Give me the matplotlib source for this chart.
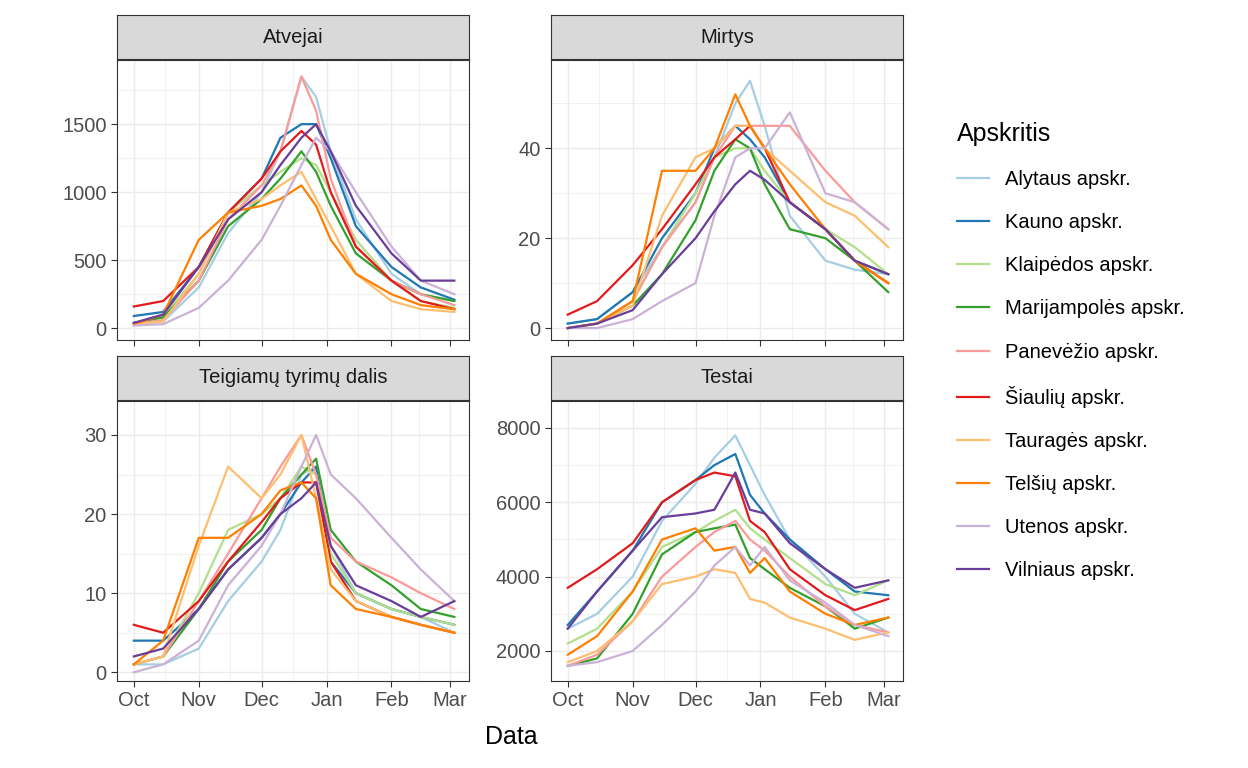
import numpy as np
import pandas as pd
import matplotlib
matplotlib.use("Agg")
import matplotlib.pyplot as plt
import matplotlib.dates as mdates

plt.rcParams["font.family"] = ["Liberation Sans", "DejaVu Sans"]

dates = pd.to_datetime(["2020-10-01", "2020-10-15", "2020-11-01", "2020-11-15", "2020-12-01",
                        "2020-12-10", "2020-12-20", "2020-12-27", "2021-01-03", "2021-01-15",
                        "2021-02-01", "2021-02-15", "2021-03-03"])

regions = ["Alytaus apskr.", "Kauno apskr.", "Klaipėdos apskr.", "Marijampolės apskr.",
           "Panevėžio apskr.", "Šiaulių apskr.", "Tauragės apskr.", "Telšių apskr.",
           "Utenos apskr.", "Vilniaus apskr."]
colors = ["#A6CEE3", "#1F78B4", "#B2DF8A", "#33A02C", "#FB9A99",
          "#E31A1C", "#FDBF6F", "#FF7F00", "#CAB2D6", "#6A3D9A"]

atvejai = [
    [30, 50, 300, 700, 1000, 1300, 1850, 1700, 1300, 800, 400, 250, 200],
    [90, 120, 450, 850, 1100, 1400, 1500, 1500, 1250, 750, 450, 300, 210],
    [30, 80, 400, 850, 1050, 1150, 1250, 1200, 1000, 650, 350, 200, 150],
    [40, 80, 350, 750, 950, 1100, 1300, 1150, 900, 550, 350, 250, 200],
    [30, 60, 350, 800, 1050, 1300, 1850, 1600, 1100, 600, 350, 250, 170],
    [160, 200, 450, 850, 1100, 1300, 1450, 1350, 1000, 600, 350, 200, 140],
    [30, 50, 400, 850, 950, 1050, 1150, 950, 750, 400, 200, 140, 120],
    [30, 100, 650, 850, 900, 950, 1050, 900, 650, 400, 250, 170, 140],
    [20, 30, 150, 350, 650, 900, 1200, 1400, 1300, 1000, 600, 350, 250],
    [40, 100, 450, 800, 1000, 1200, 1400, 1500, 1300, 900, 550, 350, 350],
]
mirtys = [
    [1, 2, 8, 18, 28, 38, 50, 55, 45, 25, 15, 13, 12],
    [1, 2, 8, 20, 30, 40, 45, 42, 38, 28, 22, 15, 12],
    [0, 1, 6, 18, 30, 38, 40, 40, 35, 28, 22, 18, 12],
    [0, 1, 5, 12, 24, 35, 42, 40, 32, 22, 20, 15, 8],
    [0, 1, 6, 18, 28, 38, 45, 45, 45, 45, 35, 28, 22],
    [3, 6, 14, 22, 32, 38, 42, 45, 40, 28, 22, 15, 10],
    [0, 1, 5, 25, 38, 40, 45, 45, 40, 35, 28, 25, 18],
    [0, 1, 6, 35, 35, 40, 52, 45, 40, 32, 22, 15, 10],
    [0, 0, 2, 6, 10, 25, 38, 40, 40, 48, 30, 28, 22],
    [0, 1, 4, 12, 20, 26, 32, 35, 33, 28, 22, 15, 12],
]
teigiami = [
    [1, 1, 3, 9, 14, 18, 25, 26, 16, 10, 8, 7, 5],
    [4, 4, 8, 13, 17, 20, 24, 26, 14, 10, 8, 7, 6],
    [1, 2, 10, 18, 20, 22, 26, 25, 15, 10, 8, 7, 6],
    [1, 2, 8, 14, 18, 22, 25, 27, 18, 14, 11, 8, 7],
    [1, 2, 9, 15, 22, 26, 30, 25, 17, 14, 12, 10, 8],
    [6, 5, 9, 14, 19, 22, 24, 24, 14, 9, 7, 6, 5],
    [1, 2, 16, 26, 22, 25, 30, 22, 13, 9, 7, 6, 5],
    [1, 4, 17, 17, 20, 23, 24, 22, 11, 8, 7, 6, 5],
    [0, 1, 4, 11, 16, 20, 26, 30, 25, 22, 17, 13, 9],
    [2, 3, 8, 13, 17, 20, 22, 24, 16, 11, 9, 7, 9],
]
testai = [
    [2600, 3000, 4000, 5500, 6500, 7200, 7800, 7000, 6200, 5000, 4000, 3000, 2500],
    [2700, 3600, 4700, 6000, 6600, 7000, 7300, 6200, 5700, 5000, 4200, 3600, 3500],
    [2200, 2600, 3600, 4800, 5200, 5500, 5800, 5300, 5000, 4500, 3800, 3500, 3900],
    [1600, 1800, 3000, 4600, 5200, 5300, 5400, 4500, 4200, 3700, 3200, 2600, 2900],
    [1600, 1900, 2800, 4000, 4800, 5200, 5500, 5000, 4700, 4000, 3200, 2700, 2500],
    [3700, 4200, 4900, 6000, 6600, 6800, 6700, 5500, 5200, 4200, 3500, 3100, 3400],
    [1700, 2000, 2800, 3800, 4000, 4200, 4100, 3400, 3300, 2900, 2600, 2300, 2500],
    [1900, 2400, 3600, 5000, 5300, 4700, 4800, 4100, 4500, 3600, 3000, 2700, 2900],
    [1600, 1700, 2000, 2700, 3600, 4300, 4800, 4300, 4800, 3900, 3300, 2700, 2400],
    [2600, 3600, 4700, 5600, 5700, 5800, 6800, 5800, 5700, 4900, 4200, 3700, 3900],
]

panels = [
    ("Atvejai", atvejai, (-88, 1970), [0, 500, 1000, 1500], (0.0938, 0.557)),
    ("Mirtys", mirtys, (-2.7, 59.6), [0, 20, 40], (0.4415, 0.557)),
    ("Teigiamų tyrimų dalis", teigiami, (-1.1, 34.3), [0, 10, 20, 30], (0.0938, 0.1133)),
    ("Testai", testai, (1193, 8726), [2000, 4000, 6000, 8000], (0.4415, 0.1133)),
]

fig = plt.figure(figsize=(12.48, 7.68), dpi=100)
W, H = 0.282, 0.3646
xlim = (pd.Timestamp("2020-09-23"), pd.Timestamp("2021-03-10"))
major = pd.to_datetime(["2020-10-01", "2020-11-01", "2020-12-01", "2021-01-01", "2021-02-01", "2021-03-01"])
minor = pd.to_datetime(["2020-10-16", "2020-11-16", "2020-12-16", "2021-01-16", "2021-02-14"])

for title, data, ylim, yticks, (x0, y0) in panels:
    ax = fig.add_axes([x0, y0, W, H])
    for vals, c, name in zip(data, colors, regions):
        ax.plot(dates, vals, color=c, lw=1.6, label=name)
    ax.set_xlim(xlim)
    ax.set_ylim(ylim)
    ax.set_yticks(yticks)
    step = yticks[1] - yticks[0]
    ym = [yticks[0] - step / 2] + [v + step / 2 for v in yticks]
    ax.set_yticks([v for v in ym if ylim[0] < v < ylim[1]], minor=True)
    ax.set_xticks(major)
    ax.set_xticks(minor, minor=True)
    ax.xaxis.set_major_formatter(mdates.DateFormatter("%b"))
    if y0 > 0.5:
        ax.set_xticklabels([])
    ax.grid(True, which="major", color="#EBEBEB", lw=1.0)
    ax.grid(True, which="minor", color="#EBEBEB", lw=0.5)
    ax.set_axisbelow(True)
    ax.tick_params(which="major", length=4, color="#333333", labelsize=14.5, labelcolor="#4D4D4D")
    ax.tick_params(which="minor", length=0)
    for s in ax.spines.values():
        s.set_color("#333333")
    sax = fig.add_axes([x0, y0 + H + 0.0013, W, 0.0573])
    sax.set_facecolor("#D9D9D9")
    sax.set_xticks([]); sax.set_yticks([])
    for s in sax.spines.values():
        s.set_color("#333333")
    sax.text(0.5, 0.5, title, ha="center", va="center", fontsize=14.5, color="#1A1A1A",
             transform=sax.transAxes)
    if title == "Atvejai":
        handles, labels = ax.get_legend_handles_labels()

fig.text(0.41, 0.04, "Data", ha="center", va="center", fontsize=18)
fig.legend(handles, labels, loc="upper left", bbox_to_anchor=(0.752, 0.865), frameon=False,
           title="Apskritis", title_fontsize=18, fontsize=14.5, labelspacing=1.2,
           handlelength=1.6, alignment="left")

fig.savefig("out.png", dpi=100)
